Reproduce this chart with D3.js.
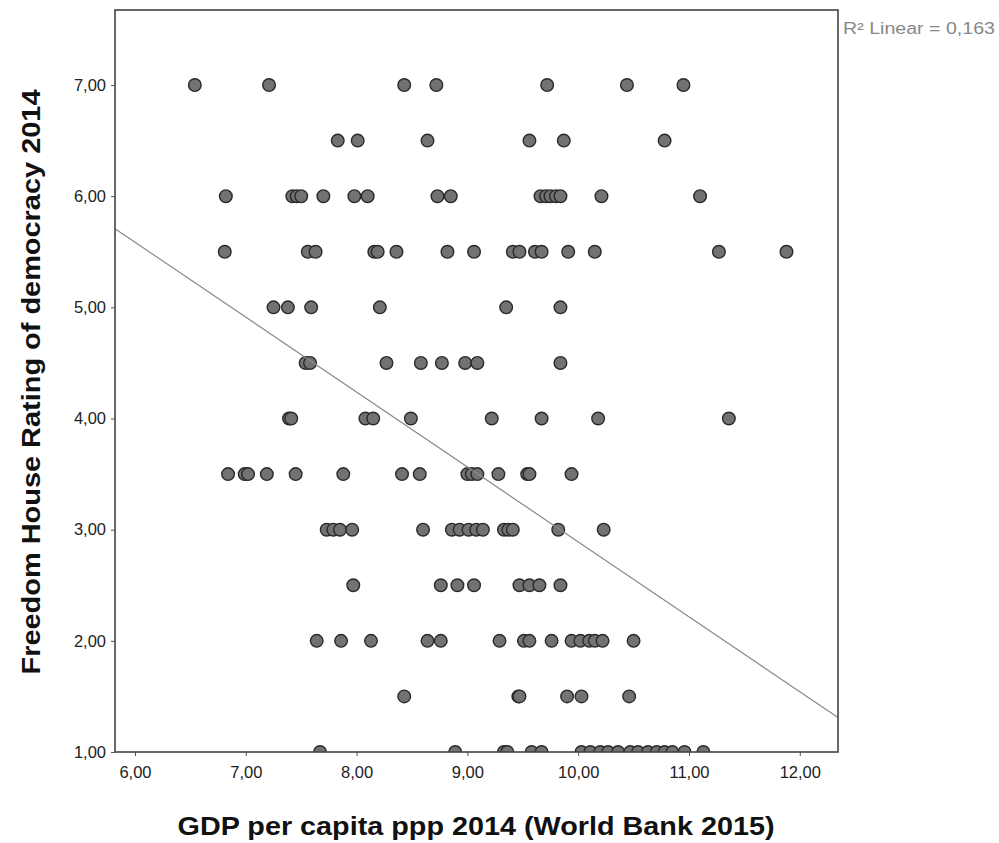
<!DOCTYPE html>
<html><head><meta charset="utf-8">
<script src="https://cdn.jsdelivr.net/npm/d3@7"></script>
<style>body{margin:0;background:#fff;} svg{display:block;}</style>
</head><body>
<script>
// GDP per capita (log) values grouped by Freedom House rating
const rating7 = [6.54, 7.21, 8.43, 8.72, 9.72, 10.44, 10.95];
const rating6_5 = [7.83, 8.01, 8.64, 9.56, 9.87, 10.78];
const rating6 = [6.82, 7.42, 7.46, 7.50, 7.70, 7.98, 8.10, 8.73, 8.85, 9.66, 9.71, 9.75, 9.80, 9.84, 10.21, 11.10];
const rating5_5 = [6.81, 7.56, 7.63, 8.16, 8.19, 8.36, 8.82, 9.06, 9.41, 9.47, 9.61, 9.67, 9.91, 10.15, 11.27, 11.88];
const rating5 = [7.25, 7.38, 7.59, 8.21, 9.35, 9.84];
const rating4_5 = [7.54, 7.58, 8.27, 8.58, 8.77, 8.98, 9.09, 9.84];
const rating4 = [7.39, 7.41, 8.08, 8.15, 8.49, 9.22, 9.67, 10.18, 11.36];
const rating3_5 = [6.84, 6.99, 7.02, 7.19, 7.45, 7.88, 8.41, 8.57, 9.00, 9.04, 9.09, 9.28, 9.54, 9.56, 9.94];
const rating3 = [7.73, 7.79, 7.85, 7.96, 8.60, 8.86, 8.93, 9.01, 9.08, 9.14, 9.33, 9.37, 9.41, 9.82, 10.23];
const rating2_5 = [7.97, 8.76, 8.91, 9.06, 9.47, 9.56, 9.65, 9.84];
const rating2 = [7.64, 7.86, 8.13, 8.64, 8.76, 9.29, 9.51, 9.56, 9.76, 9.94, 10.02, 10.10, 10.15, 10.22, 10.50];
const rating1_5 = [8.43, 9.46, 9.47, 9.90, 10.03, 10.46];
const rating1 = [7.67, 8.89, 9.33, 9.36, 9.58, 9.67, 10.03, 10.11, 10.20, 10.27, 10.36, 10.47, 10.54, 10.63, 10.71, 10.78, 10.85, 10.96, 11.13];

const ratings = [7, 6.5, 6, 5.5, 5, 4.5, 4, 3.5, 3, 2.5, 2, 1.5, 1];
const gdpByRating = [rating7, rating6_5, rating6, rating5_5, rating5, rating4_5, rating4, rating3_5, rating3, rating2_5, rating2, rating1_5, rating1];

const xTicks = [6, 7, 8, 9, 10, 11, 12];
const yTicks = [1, 2, 3, 4, 5, 6, 7];
const fitIntercept = 9.63;
const fitSlope = -0.674;
const r2Label = "R² Linear = 0,163";
const xTitle = "GDP per capita ppp 2014 (World Bank 2015)";
const yTitle = "Freedom House Rating of democracy 2014";

const points = [];
gdpByRating.forEach((arr, i) => arr.forEach(g => points.push({x: g, y: ratings[i]})));

const W = 999, H = 843;
const m = {left: 115, top: 10, right: 838, bottom: 752};
const x = d3.scaleLinear().domain([5.8195, 12.345]).range([m.left, m.right]);
const y = d3.scaleLinear().domain([1, 7.675]).range([m.bottom, m.top]);
const fmt = v => d3.format(".2f")(v).replace(".", ",");

const svg = d3.select("body").append("svg").attr("width", W).attr("height", H);

svg.append("defs").append("clipPath").attr("id", "clip")
  .append("rect").attr("x", m.left).attr("y", m.top)
  .attr("width", m.right - m.left).attr("height", m.bottom - m.top);

const font = "'Liberation Sans', Arial, sans-serif";

// axes
const xAxis = svg.append("g").attr("transform", `translate(0,${m.bottom})`)
  .call(d3.axisBottom(x).tickValues(xTicks).tickFormat(fmt).tickSize(4).tickPadding(10));
const yAxis = svg.append("g").attr("transform", `translate(${m.left},0)`)
  .call(d3.axisLeft(y).tickValues(yTicks).tickFormat(fmt).tickSize(4).tickPadding(5));
[xAxis, yAxis].forEach(a => {
  a.select(".domain").remove();
  a.selectAll("line").attr("stroke", "#555");
  a.selectAll("text").attr("font-family", font).attr("font-size", 16.5).attr("fill", "#222");
});

// points
svg.append("g").attr("clip-path", "url(#clip)")
  .selectAll("circle").data(points).join("circle")
  .attr("cx", d => x(d.x)).attr("cy", d => y(d.y)).attr("r", 6.3)
  .attr("fill", "#727272").attr("stroke", "#2a2a2a").attr("stroke-width", 1.4);

// fit line
const x0 = x.domain()[0], x1 = x.domain()[1];
svg.append("line")
  .attr("x1", x(x0)).attr("y1", y(fitIntercept + fitSlope * x0))
  .attr("x2", x(x1)).attr("y2", y(fitIntercept + fitSlope * x1))
  .attr("stroke", "#8a8a8a").attr("stroke-width", 1.2);

// frame
svg.append("rect").attr("x", m.left).attr("y", m.top)
  .attr("width", m.right - m.left).attr("height", m.bottom - m.top)
  .attr("fill", "none").attr("stroke", "#444").attr("stroke-width", 1.6);

// R2 label
svg.append("text").attr("x", 843).attr("y", 34).text(r2Label)
  .attr("font-family", font).attr("font-size", 16).attr("fill", "#888")
  .attr("textLength", 152).attr("lengthAdjust", "spacingAndGlyphs");

// titles
svg.append("text").attr("x", 476).attr("y", 835).attr("text-anchor", "middle")
  .attr("font-family", font).attr("font-weight", "bold").attr("font-size", 26).attr("fill", "#111")
  .attr("textLength", 597).attr("lengthAdjust", "spacingAndGlyphs")
  .text(xTitle);
svg.append("text").attr("transform", `translate(40,382) rotate(-90)`).attr("text-anchor", "middle")
  .attr("font-family", font).attr("font-weight", "bold").attr("font-size", 26).attr("fill", "#111")
  .attr("textLength", 585).attr("lengthAdjust", "spacingAndGlyphs")
  .text(yTitle);
</script>
</body></html>
